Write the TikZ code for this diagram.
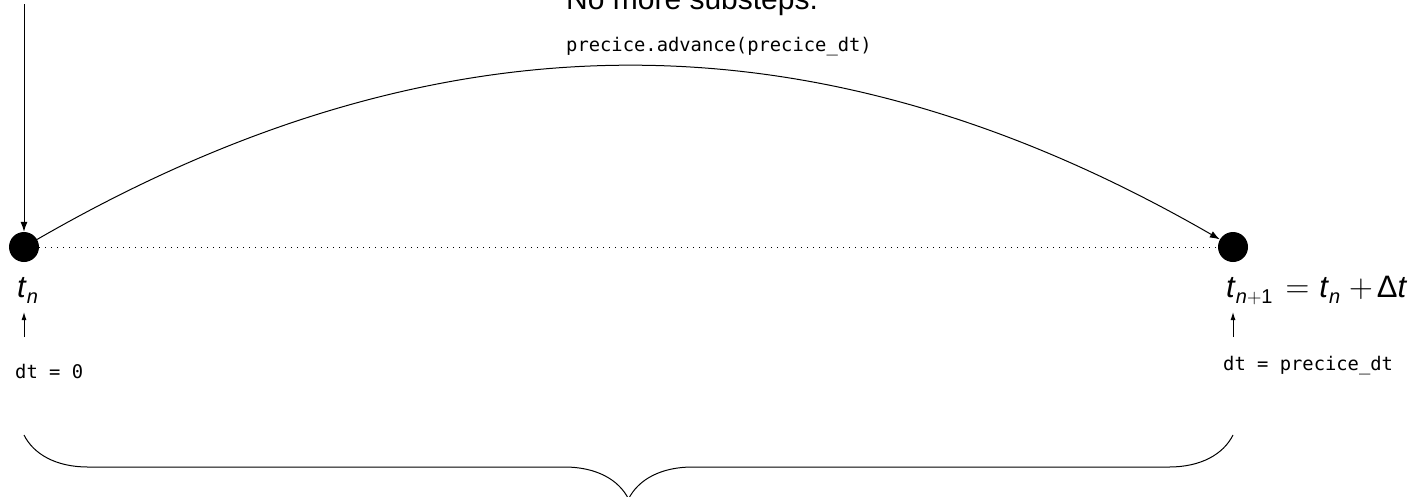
\documentclass[tikz,border=0pt]{standalone}
\usepackage{fontspec}
\setmainfont{Liberation Sans}
\newfontfamily\codefont{DejaVu Sans Mono}
\newfontfamily\lmfont{Latin Modern Roman}
\newcommand{\subtxt}[1]{\raisebox{-6pt}{\fontsize{20}{22}\selectfont #1}}
\newcommand{\bigop}[1]{{\lmfont\fontsize{33}{36}\selectfont #1}}
\usetikzlibrary{arrows.meta,decorations.pathreplacing}
\begin{document}
\begin{tikzpicture}[x=1pt,y=1pt,
  dotnode/.style={circle,fill=black,draw=none,minimum size=30pt,inner sep=0pt},
  code/.style={inner sep=0pt,anchor=base west,font=\codefont\fontsize{18.8}{22}\selectfont},
  mathlbl/.style={inner sep=0pt,anchor=base west,font=\fontsize{31}{34}\selectfont},
  conn/.style={line width=1pt,-{Latex[length=10pt,width=7pt]}},
  small/.style={line width=1pt,-{Latex[length=8pt,width=5pt]}}]
\useasboundingbox (0,0) rectangle (1423,-496);
\node[dotnode] (L) at (24,-247) {};
\node[dotnode] (R) at (1233,-247) {};
\coordinate (top) at (24,-4);
\node[inner sep=0pt,anchor=base west,font=\fontsize{30}{36}\selectfont] (nomore) at (566,-9) {No more substeps.};
\node[code] (adv) at (566,-51) {precice.advance(precice\_dt)};
\draw[conn] (top) -- (L);
\draw[conn] (L.30) .. controls +(30:463) and +(150:463) .. (R.150);
\draw[line width=1pt,dash pattern=on 1pt off 5pt] (L) -- (R);
\node[mathlbl] (tn) at (17,-297) {\textit{t}\subtxt{\textit{n}}};
\node[mathlbl] (tn1) at (1226,-297) {\textit{t}\subtxt{\textit{n}{\lmfont+}1}\hspace{13pt}\bigop{=}\hspace{10pt}\textit{t}\subtxt{\textit{n}}\hspace{9pt}\bigop{+}\hspace{4pt}Δ\textit{t}};
\coordinate (a1s) at (24,-337);
\coordinate (a1e) at (24,-312);
\coordinate (a2s) at (1233,-337);
\coordinate (a2e) at (1233,-312);
\draw[small] (a1s) -- (a1e);
\draw[small] (a2s) -- (a2e);
\node[code] (dt0) at (15,-378) {dt = 0};
\node[code] (dt1) at (1223,-370) {dt = precice\_dt};
\coordinate (bL) at (24,-435);
\coordinate (bR) at (1233,-435);
\draw[line width=1pt,decorate,decoration={brace,mirror,amplitude=64pt}] (bL) -- (bR);
\end{tikzpicture}
\end{document}
